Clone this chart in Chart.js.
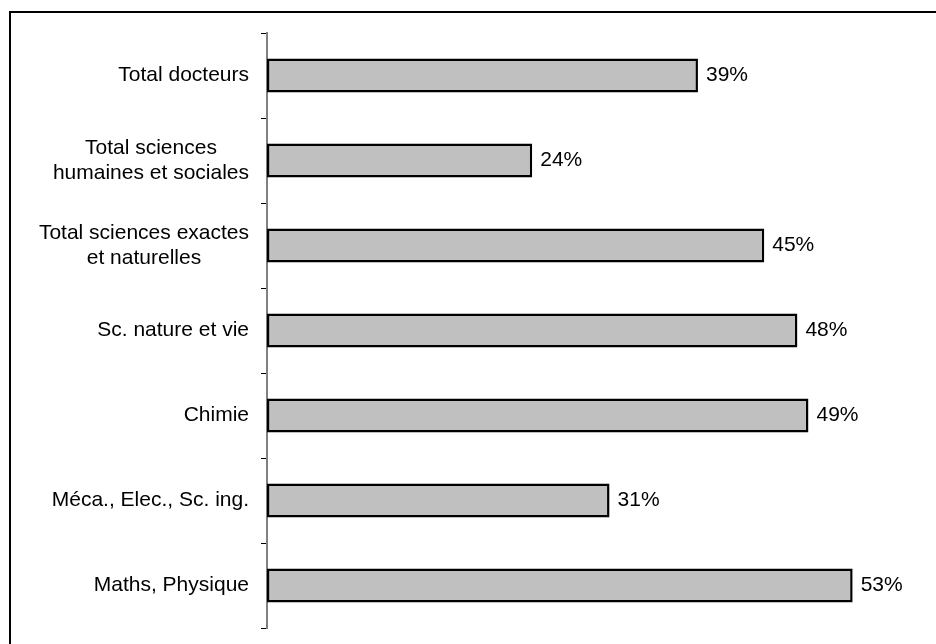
<!DOCTYPE html>
<html>
<head>
<meta charset="utf-8">
<script src="https://cdn.jsdelivr.net/npm/chart.js@4/dist/chart.umd.min.js"></script>
<style>
  body { margin: 0; background: #fff; }
  canvas { display: block; }
</style>
</head>
<body>
<canvas id="myChart" width="936" height="644"></canvas>
<script>
// Categories (multi-line ones as arrays) and their shares in percent
var categories = [
    'Total docteurs',
    ['Total sciences', 'humaines et sociales'],
    ['Total sciences exactes', 'et naturelles'],
    'Sc. nature et vie',
    'Chimie',
    'Méca., Elec., Sc. ing.',
    'Maths, Physique'
];
var shares = [39, 24, 45, 48, 49, 31, 53];
var axisMax = 60;

var FONT = '21px "Liberation Sans", Arial, sans-serif';

// frame along the top and left of the canvas
const framePlugin = {
    id: 'frame',
    beforeDraw: function (chart) {
        var c = chart.ctx;
        c.save();
        c.fillStyle = '#fff';
        c.fillRect(0, 0, chart.width, chart.height);
        c.strokeStyle = '#000';
        c.lineWidth = 2;
        c.beginPath();
        c.moveTo(10, chart.height + 2);
        c.lineTo(10, 12);
        c.lineTo(chart.width + 2, 12);
        c.stroke();
        c.restore();
    }
};

// category labels: right-aligned blocks, lines centred inside each block
const categoryLabels = {
    id: 'categoryLabels',
    afterDraw: function (chart) {
        var c = chart.ctx;
        var yScale = chart.scales.y;
        var right = yScale.right - 18;
        var lineHeight = 25;
        c.save();
        c.font = FONT;
        c.fillStyle = '#000';
        c.textAlign = 'center';
        c.textBaseline = 'middle';
        categories.forEach(function (label, i) {
            var lines = Array.isArray(label) ? label : [label];
            var w = Math.max.apply(null, lines.map(function (l) { return c.measureText(l).width; }));
            var cx = right - w / 2;
            var y0 = yScale.getPixelForTick(i) - (lines.length - 1) * lineHeight / 2;
            lines.forEach(function (l, j) {
                c.fillText(l, cx, y0 + j * lineHeight);
            });
        });
        c.restore();
    }
};

// value labels to the right of each bar
const valueLabels = {
    id: 'valueLabels',
    afterDatasetsDraw: function (chart) {
        var c = chart.ctx;
        var meta = chart.getDatasetMeta(0);
        c.save();
        c.font = FONT;
        c.fillStyle = '#000';
        c.textAlign = 'left';
        c.textBaseline = 'middle';
        meta.data.forEach(function (bar, i) {
            c.fillText(shares[i] + '%', bar.x + 8, bar.y);
        });
        c.restore();
    }
};

const ctx = document.getElementById('myChart').getContext('2d');
const config = {
    type: 'bar',
    data: {
        labels: categories,
        datasets: [{
            data: shares,
            backgroundColor: '#c0c0c0',
            borderColor: '#000',
            borderWidth: 2.5,
            borderSkipped: false,
            barPercentage: 0.4,
            categoryPercentage: 1
        }]
    },
    options: {
        indexAxis: 'y',
        responsive: false,
        animation: false,
        devicePixelRatio: 1,
        layout: {
            padding: { top: 33, bottom: 16, left: 0, right: 6 }
        },
        plugins: {
            legend: { display: false },
            tooltip: { enabled: false }
        },
        scales: {
            x: {
                display: false,
                min: 0,
                max: axisMax
            },
            y: {
                offset: true,
                afterFit: function (scale) { scale.width = 267; },
                grid: {
                    drawOnChartArea: false,
                    drawTicks: true,
                    tickLength: 6,
                    color: '#000',
                    lineWidth: 1
                },
                border: { display: true, color: '#808080', width: 2 },
                ticks: { color: 'rgba(0,0,0,0)', font: { size: 21 } }
            }
        }
    },
    plugins: [framePlugin, categoryLabels, valueLabels]
};

const myChart = new Chart(ctx, config);
</script>
</body>
</html>
